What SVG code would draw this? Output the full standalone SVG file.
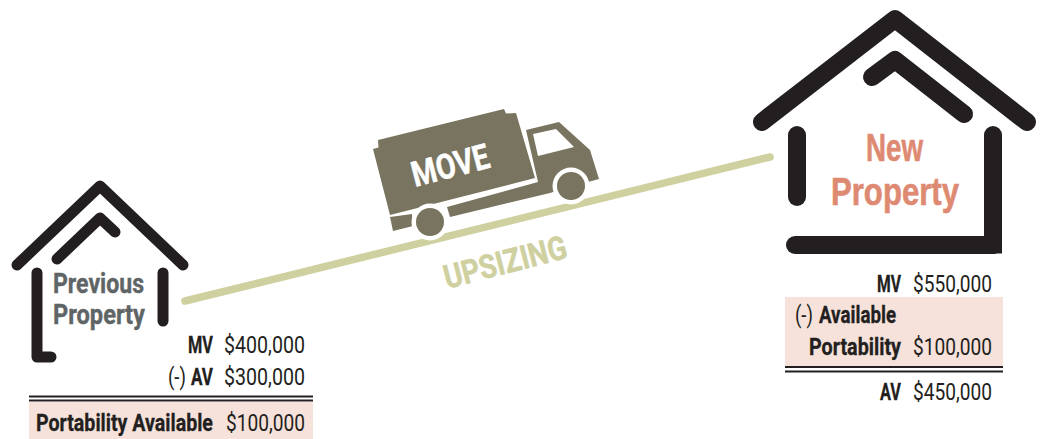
<svg xmlns="http://www.w3.org/2000/svg" width="1044" height="439" viewBox="0 0 1044 439">
<style>
text{font-family:"Roboto","Liberation Sans",sans-serif}
.h{fill:none;stroke:#231f20;stroke-linecap:round;stroke-linejoin:round}
.s{stroke-width:11}
.b{stroke-width:18}
.t{font-size:23.500px;fill:#231f20}
.tb{font-weight:700;stroke:#231f20;stroke-width:.3}
.rule{stroke:#231f20;stroke-width:2.2}
.pink{fill:#f6e2da}
.truck{fill:#79745f}
.grey{font-size:28px;font-weight:700;fill:#5f6566;stroke:#5f6566;stroke-width:.4}
.coral{font-family:"Liberation Sans",sans-serif;font-size:39px;font-weight:700;fill:#de8a72;stroke:#de8a72;stroke-width:.6}
</style>
<rect width="1044" height="439" fill="#fff"/>
<g id="connectors">
<path d="M185 301L770 157" fill="none" stroke="#cfd09f" stroke-width="7.500" stroke-linecap="round"/>
</g>
<g id="previous-property">
<path class="h s" d="M17 265L100 186L183 265"/>
<path class="h s" d="M57 259L100 218L115 232"/>
<path class="h s" d="M163 273V321"/>
<path class="h s" d="M37 273V357H51"/>
<text class="grey" x="53" y="293" textLength="91" lengthAdjust="spacingAndGlyphs">Previous</text>
<text class="grey" x="53" y="324" textLength="92" lengthAdjust="spacingAndGlyphs">Property</text>
</g>
<g id="previous-values">
<text class="t tb" x="188" y="353" textLength="25" lengthAdjust="spacingAndGlyphs">MV</text>
<text class="t" x="224" y="353" textLength="81" lengthAdjust="spacingAndGlyphs">$400,000</text>
<text class="t" x="168" y="385" textLength="18" lengthAdjust="spacingAndGlyphs">(-)</text>
<text class="t tb" x="191" y="385" textLength="22" lengthAdjust="spacingAndGlyphs">AV</text>
<text class="t" x="224" y="385" textLength="81" lengthAdjust="spacingAndGlyphs">$300,000</text>
<path class="rule" d="M29 396.500H313M29 400.500H313"/>
<rect class="pink" x="29" y="402" width="284" height="37"/>
<text class="t tb" transform="translate(36 431) scale(.79 1)" textLength="224" lengthAdjust="spacingAndGlyphs">Portability Available</text>
<text class="t" x="226" y="431" textLength="79" lengthAdjust="spacingAndGlyphs">$100,000</text>
</g>
<g id="truck">
<path class="truck" d="M373 149L378.500 147.500L378 140L504 109L506 113.500L516 113L535 178L390 215Z"/>
<path class="truck" d="M390 217L412 214L413 226L393 231Z"/>
<path class="truck" d="M526 130L559 122L590 150L599 179L588 182L571 186L550 193L450 217L447 207L538 182Z"/>
<circle cx="571" cy="186" r="18.500" fill="#fff"/>
<circle cx="571" cy="186" r="14" class="truck"/>
<path d="M533 134L556 129L574 147L538 156Z" fill="#fff"/>
<circle cx="430" cy="222" r="18.500" fill="#fff"/>
<circle cx="430" cy="222" r="14" class="truck"/>
<text transform="translate(415 187) rotate(-14.500)" font-size="35" font-weight="700" fill="#fff" stroke="#fff" stroke-width=".5" textLength="79" lengthAdjust="spacingAndGlyphs">MOVE</text>
</g>
<text id="upsizing" transform="translate(447 289) rotate(-14.500)" font-size="33" font-weight="700" fill="#cfd09f" stroke="#cfd09f" stroke-width=".5" textLength="126" lengthAdjust="spacingAndGlyphs">UPSIZING</text>
<g id="new-property">
<path class="h b" d="M762 122L895 19L1027 122"/>
<path class="h b" d="M872 77L895 60L964 114"/>
<path class="h b" d="M797 135V197"/>
<path class="h b" d="M795 245H993"/>
<path class="h b" d="M993 135V245"/>
<rect x="985" y="240" width="17" height="13.500" fill="#231f20"/>
<text class="coral" x="866" y="160.500" textLength="57" lengthAdjust="spacingAndGlyphs">New</text>
<text class="coral" x="831" y="204.500" textLength="128" lengthAdjust="spacingAndGlyphs">Property</text>
</g>
<g id="new-values">
<text class="t tb" x="877" y="292" textLength="24" lengthAdjust="spacingAndGlyphs">MV</text>
<text class="t" x="913" y="292" textLength="79" lengthAdjust="spacingAndGlyphs">$550,000</text>
<rect class="pink" x="785" y="297" width="218" height="69"/>
<text class="t" x="795" y="323" textLength="18" lengthAdjust="spacingAndGlyphs">(-)</text>
<text class="t tb" x="819" y="323" textLength="77" lengthAdjust="spacingAndGlyphs">Available</text>
<text class="t tb" x="809" y="355" textLength="92" lengthAdjust="spacingAndGlyphs">Portability</text>
<text class="t" x="913" y="355" textLength="79" lengthAdjust="spacingAndGlyphs">$100,000</text>
<path class="rule" d="M785 367H1003M785 371.500H1003"/>
<text class="t tb" x="880" y="400" textLength="21" lengthAdjust="spacingAndGlyphs">AV</text>
<text class="t" x="913" y="400" textLength="79" lengthAdjust="spacingAndGlyphs">$450,000</text>
</g>
</svg>
